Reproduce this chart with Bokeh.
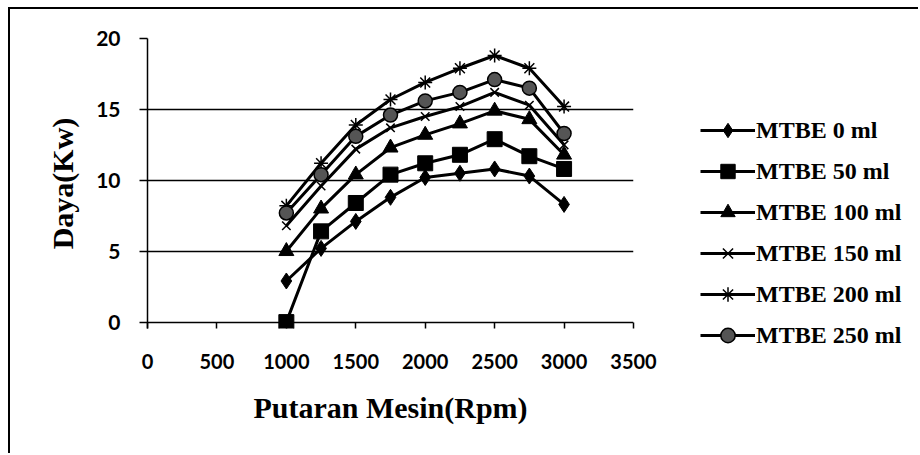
from bokeh.plotting import figure
from bokeh.models import Legend, LegendItem, Range1d, FixedTicker
from bokeh.layouts import row
from bokeh.embed import file_html
from bokeh.resources import INLINE

rpm = [1000, 1250, 1500, 1750, 2000, 2250, 2500, 2750, 3000]
mtbe_0 = [2.9, 5.2, 7.1, 8.8, 10.2, 10.5, 10.8, 10.3, 8.3]
mtbe_50 = [0.0, 6.4, 8.4, 10.4, 11.2, 11.8, 12.9, 11.7, 10.8]
mtbe_100 = [5.0, 8.0, 10.4, 12.3, 13.2, 14.0, 14.9, 14.3, 11.8]
mtbe_150 = [6.8, 9.6, 12.2, 13.7, 14.5, 15.2, 16.2, 15.3, 12.5]
mtbe_200 = [8.2, 11.2, 13.9, 15.7, 16.9, 17.9, 18.8, 17.9, 15.2]
mtbe_250 = [7.7, 10.4, 13.1, 14.6, 15.6, 16.2, 17.1, 16.5, 13.3]
labels = ["MTBE 0 ml", "MTBE 50 ml", "MTBE 100 ml", "MTBE 150 ml", "MTBE 200 ml", "MTBE 250 ml"]
x_ticks = [0, 500, 1000, 1500, 2000, 2500, 3000, 3500]
y_ticks = [0, 5, 10, 15, 20]

H = 444
p = figure(width=663, height=H, output_backend="svg", toolbar_location=None,
           x_range=Range1d(0, 3500), y_range=Range1d(-0.45, 20),
           min_border_left=137, min_border_top=29, min_border_right=40, min_border_bottom=125)
p.frame_align = False
p.outline_line_color = None
p.background_fill_color = "white"
p.border_fill_color = "white"

p.xaxis.ticker = FixedTicker(ticks=x_ticks)
p.yaxis.ticker = FixedTicker(ticks=y_ticks)
p.xaxis.minor_tick_line_color = None
p.yaxis.minor_tick_line_color = None
for ax in (p.xaxis[0], p.yaxis[0]):
    ax.axis_line_color = "black"
    ax.axis_line_width = 1.5
    ax.major_tick_line_color = "black"
    ax.major_tick_line_width = 1.5
    ax.major_label_text_font = "Lato"
    ax.major_label_text_font_style = "bold"
    ax.major_label_text_font_size = "20px"
    ax.major_label_text_color = "black"
    ax.axis_label_text_font = "Liberation Serif"
    ax.axis_label_text_font_style = "bold"
    ax.axis_label_text_font_size = "30px"
    ax.axis_label_text_color = "black"
p.yaxis.major_label_text_font_size = "21px"
# bottom axis sits just below the zero line; its ticks reach up to the zero line
p.xaxis.axis_line_color = None
p.xaxis.major_tick_in = 6
p.xaxis.major_tick_out = 0
p.yaxis.major_tick_in = 0
p.yaxis.major_tick_out = 8
p.xaxis.major_label_standoff = 25
p.yaxis.major_label_standoff = 19
p.xaxis.axis_label = "Putaran Mesin(Rpm)"
p.yaxis.axis_label = "Daya(Kw)"
p.xaxis.axis_label_standoff = 19
p.yaxis.axis_label_standoff = 14

p.xgrid.grid_line_color = None
p.ygrid.grid_line_color = "black"
p.ygrid.grid_line_width = 1.5
p.ygrid.ticker = FixedTicker(ticks=y_ticks)

series = [mtbe_0, mtbe_50, mtbe_100, mtbe_150, mtbe_200, mtbe_250]
markers = ["diamond", "square", "triangle", "x", "asterisk", "circle"]
sizes = [16, 15, 15, 12, 14, 14]


def style_kw(mk):
    if mk == "circle":
        return dict(fill_color="#555555", line_color="black", line_width=1.5)
    if mk in ("x", "asterisk"):
        return dict(line_color="black", line_width=1.5)
    return dict(fill_color="black", line_color="black")


for ys, mk, sz in zip(series, markers, sizes):
    p.line(rpm, ys, line_color="black", line_width=3)
    p.scatter(rpm, ys, marker=mk, size=sz, **style_kw(mk))

# legend panel (separate canvas; its renderers lie outside its own view)
p2 = figure(width=245, height=H, output_backend="svg", toolbar_location=None,
            x_axis_type=None, y_axis_type=None,
            x_range=Range1d(0, 1), y_range=Range1d(-1, 0),
            min_border_left=0, min_border_right=0, min_border_top=0, min_border_bottom=0)
p2.frame_align = False
p2.outline_line_color = None
p2.xgrid.grid_line_color = None
p2.ygrid.grid_line_color = None
items = []
for ys, mk, sz, lab in zip(series, markers, sizes, labels):
    ln = p2.line(rpm, ys, line_color="black", line_width=3)
    sc = p2.scatter(rpm, ys, marker=mk, size=sz, **style_kw(mk))
    items.append(LegendItem(label=lab, renderers=[ln, sc]))

legend = Legend(items=items, location=(27, 100), orientation="vertical",
                glyph_width=55, glyph_height=36, spacing=5, padding=0, margin=0,
                label_standoff=1, label_text_font="Liberation Serif",
                label_text_font_style="bold", label_text_font_size="24px",
                label_text_color="black", border_line_color=None,
                background_fill_alpha=0)
p2.add_layout(legend, "center")

layout = row(p, p2, spacing=0)
layout.styles = {"margin-left": "8px", "margin-top": "7px",
                 "border-left": "2px solid black", "border-top": "2px solid black"}

open("out.html", "w").write(file_html(layout, INLINE))
